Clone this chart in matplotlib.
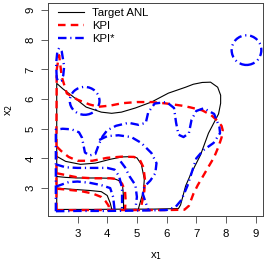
import numpy as np
import matplotlib.pyplot as plt
from matplotlib.patches import Ellipse

# Target ANL (black, solid)
anl_outer_x = [2.30, 2.30, 2.30, 2.50, 2.79, 3.29, 3.80, 4.15, 4.48, 4.95, 5.49, 6.06, 6.64, 6.90, 7.20, 7.48,
               7.72, 7.82, 7.82, 7.75, 7.41, 7.14, 6.80, 6.64, 6.47, 6.40, 5.5, 4.5, 3.5, 2.30]
anl_outer_y = [2.28, 4.50, 6.53, 6.35, 6.13, 5.73, 5.56, 5.52, 5.56, 5.70, 5.90, 6.20, 6.40, 6.50, 6.56, 6.57,
               6.40, 6.13, 5.86, 5.50, 4.85, 4.11, 3.44, 3.07, 2.43, 2.31, 2.29, 2.29, 2.28, 2.28]
anl_a_x = [2.30, 2.6, 3.1, 3.6, 4.1, 4.5, 4.8, 5.0, 5.15, 5.25, 5.22, 5.12, 5.05]
anl_a_y = [4.07, 3.9, 3.8, 3.84, 3.97, 4.05, 4.06, 4.02, 3.8, 3.3, 2.9, 2.55, 2.30]
anl_b_x = [2.30, 2.6, 3.0, 3.6, 4.2, 4.4, 4.52, 4.55, 4.55]
anl_b_y = [3.39, 3.36, 3.34, 3.34, 3.33, 3.25, 3.05, 2.7, 2.30]
anl_c_x = [2.30, 2.8, 3.4, 3.8, 4.0, 4.1, 4.15]
anl_c_y = [3.0, 2.96, 2.92, 2.88, 2.75, 2.5, 2.30]

# KPI (red, dashed)
kpi_outer_x = [2.29, 2.29, 2.30, 2.38, 2.47, 2.64, 3.0, 3.4, 3.7, 4.1, 4.5, 5.0, 5.5, 6.0, 6.5, 6.8, 7.2, 7.5,
               7.7, 7.85, 7.89, 7.85, 7.75, 7.6, 7.4, 7.25, 7.05, 6.9, 6.75, 6.6, 6.0, 5.0, 4.0, 3.0, 2.29]
kpi_outer_y = [2.25, 5.0, 7.0, 7.48, 6.75, 6.19, 5.98, 5.82, 5.74, 5.78, 5.86, 5.9, 5.9, 5.85, 5.78, 5.72, 5.62,
               5.46, 5.28, 5.1, 4.95, 4.7, 4.4, 4.04, 3.7, 3.44, 3.1, 2.8, 2.4, 2.27, 2.26, 2.26, 2.26, 2.26, 2.25]
kpi_a_x = [2.30, 2.45, 2.7, 3.0, 3.5, 4.0, 4.5, 4.9, 5.1, 5.22, 5.27, 5.25, 5.18, 5.12]
kpi_a_y = [4.4, 4.25, 4.05, 3.92, 3.92, 4.02, 4.06, 4.05, 3.95, 3.7, 3.3, 2.9, 2.55, 2.27]
kpi_b_x = [2.30, 2.6, 3.0, 3.5, 4.1, 4.35, 4.5, 4.6, 4.62, 4.6]
kpi_b_y = [3.5, 3.44, 3.36, 3.33, 3.33, 3.3, 3.15, 2.9, 2.6, 2.27]
kpi_c_x = [2.30, 2.7, 3.1, 3.5, 3.8, 3.95, 4.05, 4.05]
kpi_c_y = [2.98, 2.94, 2.9, 2.82, 2.7, 2.55, 2.4, 2.26]

# KPI* (blue, dash-dot)
kpis_outer_x = [2.27, 2.27, 2.5, 2.8, 3.05, 3.15, 3.2, 3.25, 3.4, 3.6, 3.73, 3.85, 4.0, 4.3, 4.72, 5.06, 5.3, 5.38,
                5.6, 6.0, 6.25, 6.32, 6.4, 6.57, 6.75, 6.84, 7.0, 7.25, 7.6, 7.78, 7.8, 7.58, 7.24, 7.0, 6.87,
                6.7, 6.5, 6.3, 6.0, 5.0, 4.0, 3.0, 2.27]
kpis_outer_y = [2.22, 4.97, 5.0, 4.98, 4.88, 4.7, 4.45, 4.2, 4.1, 4.15, 4.5, 4.75, 4.95, 5.1, 5.2, 5.13, 5.2, 5.55,
                5.85, 5.9, 5.7, 5.2, 4.8, 4.72, 4.85, 5.3, 5.6, 5.69, 5.5, 5.05, 4.85, 4.52, 4.28, 4.0, 3.6,
                3.07, 2.6, 2.36, 2.26, 2.24, 2.23, 2.23, 2.22]
kpis_c_x = [3.73, 4.0, 4.38, 4.81, 5.15, 5.49, 5.66, 5.62, 5.45, 5.25, 5.2, 5.3, 5.38]
kpis_c_y = [4.62, 4.75, 4.78, 4.72, 4.52, 4.18, 3.84, 3.5, 3.25, 3.05, 2.8, 2.5, 2.28]
kpis_a_x = [2.27, 2.6, 3.0, 3.5, 4.0, 4.25, 4.4, 4.5, 4.5]
kpis_a_y = [3.8, 3.7, 3.68, 3.68, 3.68, 3.62, 3.4, 3.0, 2.25]
kpis_b_x = [2.27, 2.7, 3.0, 3.4, 3.8, 4.1, 4.2, 4.25]
kpis_b_y = [3.05, 3.2, 3.22, 3.18, 3.1, 3.0, 2.7, 2.25]
kpis_d_x = [4.45, 4.6, 4.75, 4.95, 5.0, 4.95]
kpis_d_y = [3.9, 3.7, 3.4, 3.1, 2.7, 2.3]
kpis_spike_x = [2.30, 2.28, 2.32, 2.38, 2.47, 2.55, 2.52, 2.45, 2.36, 2.30]
kpis_spike_y = [6.7, 7.2, 7.6, 7.72, 7.6, 7.1, 6.8, 6.62, 6.6, 6.7]
# closed loops: centre x, centre y, width, height
kpis_loops = [(8.69, 7.65, 1.0, 1.0), (3.24, 5.94, 1.0, 0.94)]

plt.rcParams['font.family'] = 'Liberation Sans'
fig = plt.figure(figsize=(2.66, 2.66), dpi=100)
ax = fig.add_axes([0.182, 0.187, 0.806, 0.803])

lw_k, lw_r, lw_b = 0.8, 1.7, 1.7
dash_r = (0, (3.2, 2.2))
dash_b = (0, (3.6, 1.6, 0.5, 1.6))

ax.plot(anl_outer_x, anl_outer_y, color='black', lw=lw_k, label='Target ANL')
for xs, ys in [(anl_a_x, anl_a_y), (anl_b_x, anl_b_y), (anl_c_x, anl_c_y)]:
    ax.plot(xs, ys, color='black', lw=lw_k)

ax.plot(kpi_outer_x, kpi_outer_y, color='red', lw=lw_r, ls=dash_r, label='KPI')
for xs, ys in [(kpi_a_x, kpi_a_y), (kpi_b_x, kpi_b_y), (kpi_c_x, kpi_c_y)]:
    ax.plot(xs, ys, color='red', lw=lw_r, ls=dash_r)

ax.plot(kpis_outer_x, kpis_outer_y, color='blue', lw=lw_b, ls=dash_b, label='KPI*')
for xs, ys in [(kpis_c_x, kpis_c_y), (kpis_a_x, kpis_a_y), (kpis_b_x, kpis_b_y),
               (kpis_d_x, kpis_d_y), (kpis_spike_x, kpis_spike_y)]:
    ax.plot(xs, ys, color='blue', lw=lw_b, ls=dash_b)
for cx, cy, w, h in kpis_loops:
    ax.add_patch(Ellipse((cx, cy), w, h, fill=False, edgecolor='blue', lw=lw_b, ls=dash_b))

ax.set_xlim(2.02, 9.24)
ax.set_ylim(2.05, 9.25)
ax.set_xticks([3, 4, 5, 6, 7, 8, 9])
ax.set_yticks([3, 4, 5, 6, 7, 8, 9])
ax.tick_params(labelsize=8.2, length=5, width=0.6, color='#444444', pad=4.5)
for lab in ax.get_yticklabels():
    lab.set_rotation(90)
    lab.set_va('center')
for s in ax.spines.values():
    s.set_linewidth(0.7)
    s.set_color('#444444')
ax.set_xlabel('x$_1$', fontsize=8.2, labelpad=8)
ax.set_ylabel('x$_2$', fontsize=8.2, labelpad=7)
ax.legend(loc='upper left', bbox_to_anchor=(0.045, 0.975), frameon=False, fontsize=8.2,
          borderpad=0, borderaxespad=0, handlelength=2.3, labelspacing=0.28, handletextpad=0.7)

fig.savefig('out.png', dpi=100)
